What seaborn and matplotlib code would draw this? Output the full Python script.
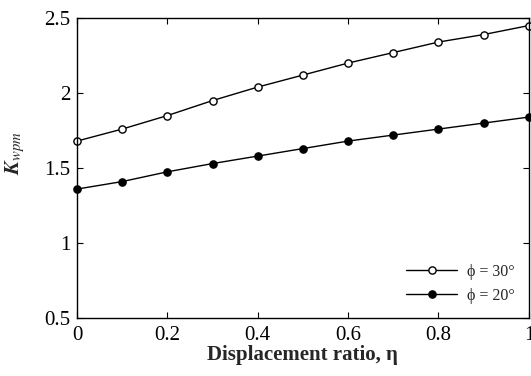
import matplotlib
matplotlib.use("Agg")
import matplotlib.pyplot as plt
import seaborn as sns
import pandas as pd

eta = [0.0, 0.1, 0.2, 0.3, 0.4, 0.5, 0.6, 0.7, 0.8, 0.9, 1.0]
k_phi30 = [1.68, 1.76, 1.85, 1.95, 2.04, 2.12, 2.20, 2.27, 2.34, 2.39, 2.45]
k_phi20 = [1.36, 1.41, 1.475, 1.53, 1.58, 1.63, 1.68, 1.72, 1.76, 1.80, 1.84]
labels = ["ϕ = 30°", "ϕ = 20°"]
x_ticks = [0, 0.2, 0.4, 0.6, 0.8, 1]
x_ticklabels = ["0", "0.2", "0.4", "0.6", "0.8", "1"]
y_ticks = [0.5, 1, 1.5, 2, 2.5]
y_ticklabels = ["0.5", "1", "1.5", "2", "2.5"]

sns.set_theme(style="ticks")
plt.rcParams["font.family"] = ["Liberation Serif", "DejaVu Serif"]
plt.rcParams["mathtext.fontset"] = "stix"

fig = plt.figure(figsize=(5.31, 3.76), dpi=100)
ax = fig.add_axes([0.145, 0.154, 0.851, 0.798])

df30 = pd.DataFrame({"eta": eta, "K": k_phi30})
df20 = pd.DataFrame({"eta": eta, "K": k_phi20})
sns.lineplot(data=df30, x="eta", y="K", ax=ax, color="black", lw=1.0,
             marker="o", markersize=5.2, markerfacecolor="white",
             markeredgecolor="black", markeredgewidth=1.0, label=labels[0],
             clip_on=False)
sns.lineplot(data=df20, x="eta", y="K", ax=ax, color="black", lw=1.0,
             marker="o", markersize=5.2, markerfacecolor="black",
             markeredgecolor="black", markeredgewidth=1.0, label=labels[1],
             clip_on=False)

ax.set_xlim(0, 1)
ax.set_ylim(0.5, 2.5)
ax.set_xticks(x_ticks)
ax.set_xticklabels(x_ticklabels)
ax.set_yticks(y_ticks)
ax.set_yticklabels(y_ticklabels)
ax.tick_params(direction="in", top=True, right=True, length=4, width=0.8,
               labelsize=15, colors="black")
ax.tick_params(axis="x", pad=6)
ax.tick_params(axis="y", pad=5)
for s in ax.spines.values():
    s.set_linewidth(1.0)
    s.set_color("black")

ax.set_xlabel("Displacement ratio, η", fontsize=15, fontweight="bold", labelpad=0)
ax.set_ylabel(r"$\mathbfit{K}_{wpm}$", fontsize=15)
ax.yaxis.set_label_coords(-0.11, 0.55)

leg = ax.legend(loc="lower right", frameon=False, fontsize=11.5,
                handlelength=3.2, handletextpad=0.6, borderaxespad=0.5,
                labelspacing=0.5)

fig.savefig("out.png", dpi=100)
